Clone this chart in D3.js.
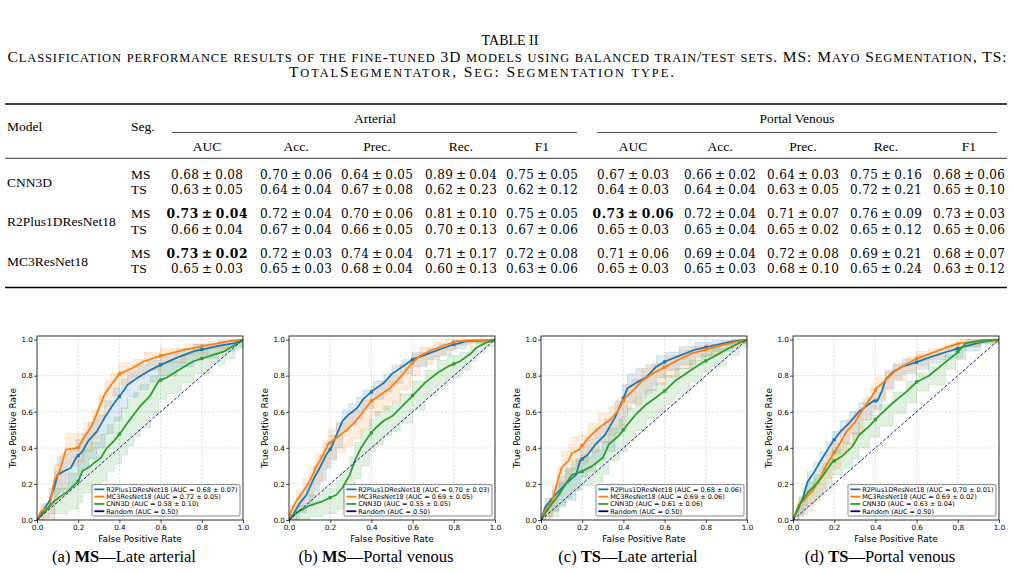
<!DOCTYPE html>
<html>
<head>
<meta charset="utf-8">
<script src="https://cdn.jsdelivr.net/npm/d3@7"></script>
<style>
  body { margin: 0; background: #fff; }
  svg { display: block; }
</style>
</head>
<body>
<svg id="fig" width="1014" height="573"></svg>
<script>
"use strict";

// ---------- table data ----------
const tableModels = ["CNN3D", "R2Plus1DResNet18", "MC3ResNet18"];
const tableSegs = ["MS", "TS"];
const phases = ["Arterial", "Portal Venous"];
const metrics = ["AUC", "Acc.", "Prec.", "Rec.", "F1"];

// rows: CNN3D MS, CNN3D TS, R2 MS, R2 TS, MC3 MS, MC3 TS ; 5 arterial + 5 portal venous
const tableMeans = [
    [0.68, 0.70, 0.64, 0.89, 0.75, 0.67, 0.66, 0.64, 0.75, 0.68],
    [0.63, 0.64, 0.67, 0.62, 0.62, 0.64, 0.64, 0.63, 0.72, 0.65],
    [0.73, 0.72, 0.70, 0.81, 0.75, 0.73, 0.72, 0.71, 0.76, 0.73],
    [0.66, 0.67, 0.66, 0.70, 0.67, 0.65, 0.65, 0.65, 0.65, 0.65],
    [0.73, 0.72, 0.74, 0.71, 0.72, 0.71, 0.69, 0.72, 0.69, 0.68],
    [0.65, 0.65, 0.68, 0.60, 0.63, 0.65, 0.65, 0.68, 0.65, 0.63]
];
const tableStds = [
    [0.08, 0.06, 0.05, 0.04, 0.05, 0.03, 0.02, 0.03, 0.16, 0.06],
    [0.05, 0.04, 0.08, 0.23, 0.12, 0.03, 0.04, 0.05, 0.21, 0.10],
    [0.04, 0.04, 0.06, 0.10, 0.05, 0.06, 0.04, 0.07, 0.09, 0.03],
    [0.04, 0.04, 0.05, 0.13, 0.06, 0.03, 0.04, 0.02, 0.12, 0.06],
    [0.02, 0.03, 0.04, 0.17, 0.08, 0.06, 0.04, 0.08, 0.21, 0.07],
    [0.03, 0.03, 0.04, 0.13, 0.06, 0.03, 0.03, 0.10, 0.24, 0.12]
];
const boldCells = [[2, 0], [4, 0], [2, 5]];

// ---------- ROC data: [fpr, mean tpr, std tpr] ----------
const rocA_R2 = [[0,0,0],[0.03,0.05,0.04],[0.06,0.105,0.07],[0.084,0.18,0.09],[0.10,0.25,0.10],[0.13,0.27,0.10],[0.165,0.29,0.10],[0.19,0.345,0.10],[0.22,0.38,0.10],[0.25,0.44,0.10],[0.29,0.49,0.09],[0.33,0.57,0.09],[0.37,0.64,0.09],[0.41,0.70,0.08],[0.44,0.75,0.07],[0.49,0.79,0.07],[0.54,0.825,0.06],[0.60,0.86,0.06],[0.68,0.90,0.05],[0.76,0.935,0.04],[0.88,0.965,0.03],[0.96,0.98,0.02],[1,1,0]];
const rocA_MC3 = [[0,0,0],[0.02,0.05,0.04],[0.06,0.07,0.06],[0.084,0.22,0.09],[0.11,0.27,0.10],[0.14,0.39,0.09],[0.20,0.40,0.08],[0.23,0.46,0.08],[0.27,0.53,0.08],[0.30,0.62,0.07],[0.33,0.70,0.07],[0.36,0.75,0.06],[0.40,0.81,0.06],[0.46,0.84,0.05],[0.52,0.88,0.05],[0.60,0.91,0.04],[0.72,0.945,0.03],[0.83,0.97,0.02],[0.93,0.99,0.01],[1,1,0]];
const rocA_CNN = [[0,0,0],[0.084,0.105,0.07],[0.15,0.16,0.10],[0.20,0.215,0.12],[0.22,0.27,0.12],[0.26,0.30,0.13],[0.31,0.345,0.13],[0.34,0.40,0.13],[0.375,0.44,0.13],[0.41,0.49,0.13],[0.44,0.54,0.13],[0.47,0.585,0.12],[0.50,0.63,0.12],[0.55,0.69,0.11],[0.59,0.77,0.10],[0.63,0.79,0.09],[0.70,0.84,0.08],[0.76,0.88,0.07],[0.84,0.91,0.05],[0.91,0.935,0.04],[0.96,0.97,0.02],[1,1,0]];

const rocB_R2 = [[0,0,0],[0.02,0.03,0.03],[0.05,0.09,0.05],[0.085,0.14,0.06],[0.12,0.23,0.07],[0.15,0.29,0.07],[0.18,0.36,0.07],[0.205,0.40,0.07],[0.23,0.47,0.07],[0.26,0.55,0.06],[0.29,0.585,0.06],[0.33,0.62,0.06],[0.36,0.67,0.05],[0.41,0.72,0.05],[0.46,0.76,0.05],[0.50,0.81,0.05],[0.55,0.85,0.04],[0.60,0.89,0.04],[0.67,0.92,0.03],[0.73,0.945,0.03],[0.79,0.97,0.02],[0.86,0.99,0.01],[0.94,0.995,0.01],[1,1,0]];
const rocB_MC3 = [[0,0,0],[0.01,0.05,0.04],[0.035,0.105,0.06],[0.07,0.16,0.07],[0.10,0.215,0.08],[0.13,0.29,0.08],[0.165,0.36,0.08],[0.19,0.42,0.08],[0.23,0.455,0.08],[0.27,0.49,0.08],[0.31,0.53,0.08],[0.35,0.585,0.08],[0.40,0.66,0.08],[0.44,0.69,0.08],[0.49,0.73,0.07],[0.54,0.79,0.07],[0.59,0.86,0.06],[0.635,0.91,0.05],[0.70,0.945,0.04],[0.76,0.97,0.03],[0.81,0.99,0.02],[0.89,0.995,0.01],[1,1,0]];
const rocB_CNN = [[0,0,0],[0.035,0.04,0.04],[0.10,0.08,0.06],[0.165,0.105,0.07],[0.23,0.14,0.08],[0.26,0.18,0.09],[0.295,0.25,0.10],[0.32,0.33,0.10],[0.35,0.40,0.10],[0.39,0.47,0.09],[0.42,0.51,0.09],[0.46,0.55,0.08],[0.50,0.575,0.08],[0.54,0.62,0.08],[0.60,0.69,0.08],[0.66,0.76,0.07],[0.72,0.815,0.07],[0.77,0.85,0.06],[0.83,0.88,0.05],[0.88,0.92,0.04],[0.91,0.955,0.03],[0.95,0.98,0.02],[1,1,0]];

const rocC_R2 = [[0,0,0],[0.02,0.07,0.05],[0.055,0.12,0.07],[0.087,0.16,0.08],[0.12,0.20,0.09],[0.17,0.25,0.09],[0.19,0.33,0.09],[0.225,0.36,0.09],[0.265,0.42,0.09],[0.31,0.47,0.09],[0.36,0.57,0.09],[0.395,0.66,0.09],[0.42,0.73,0.08],[0.46,0.76,0.08],[0.51,0.79,0.07],[0.56,0.85,0.06],[0.605,0.88,0.05],[0.67,0.91,0.05],[0.75,0.945,0.04],[0.83,0.965,0.03],[0.93,0.99,0.01],[1,1,0]];
const rocC_MC3 = [[0,0,0],[0.02,0.05,0.04],[0.055,0.105,0.06],[0.08,0.215,0.08],[0.10,0.29,0.09],[0.135,0.33,0.09],[0.15,0.37,0.09],[0.185,0.39,0.08],[0.23,0.455,0.08],[0.28,0.51,0.08],[0.33,0.55,0.08],[0.37,0.60,0.08],[0.41,0.68,0.07],[0.44,0.71,0.07],[0.49,0.77,0.07],[0.54,0.81,0.06],[0.605,0.85,0.06],[0.67,0.89,0.05],[0.735,0.925,0.04],[0.80,0.945,0.03],[0.88,0.97,0.02],[0.96,0.99,0.01],[1,1,0]];
const rocC_CNN = [[0,0,0],[0.04,0.07,0.05],[0.087,0.14,0.07],[0.12,0.20,0.08],[0.15,0.25,0.08],[0.20,0.27,0.08],[0.25,0.30,0.09],[0.30,0.345,0.09],[0.33,0.42,0.09],[0.38,0.47,0.09],[0.42,0.53,0.09],[0.46,0.585,0.09],[0.51,0.64,0.08],[0.56,0.68,0.08],[0.605,0.72,0.08],[0.65,0.77,0.07],[0.72,0.825,0.06],[0.78,0.87,0.05],[0.83,0.90,0.05],[0.90,0.945,0.03],[0.96,0.98,0.02],[1,1,0]];

const rocD_R2 = [[0,0,0],[0.025,0.06,0.04],[0.05,0.13,0.05],[0.07,0.21,0.06],[0.10,0.26,0.06],[0.13,0.32,0.06],[0.16,0.375,0.06],[0.19,0.43,0.06],[0.23,0.49,0.06],[0.275,0.54,0.06],[0.32,0.60,0.05],[0.36,0.635,0.05],[0.39,0.66,0.05],[0.41,0.66,0.05],[0.43,0.71,0.05],[0.45,0.78,0.05],[0.485,0.82,0.04],[0.53,0.85,0.04],[0.60,0.875,0.04],[0.66,0.90,0.03],[0.74,0.93,0.03],[0.825,0.96,0.02],[0.91,0.985,0.01],[1,1,0]];
const rocD_MC3 = [[0,0,0],[0.025,0.08,0.04],[0.057,0.115,0.05],[0.10,0.17,0.06],[0.13,0.225,0.07],[0.16,0.30,0.07],[0.19,0.355,0.07],[0.23,0.43,0.07],[0.26,0.49,0.07],[0.30,0.54,0.07],[0.34,0.615,0.06],[0.38,0.68,0.06],[0.405,0.73,0.06],[0.445,0.77,0.05],[0.49,0.82,0.05],[0.55,0.865,0.04],[0.60,0.895,0.04],[0.66,0.92,0.03],[0.74,0.955,0.02],[0.81,0.98,0.02],[0.91,0.99,0.01],[1,1,0]];
const rocD_CNN = [[0,0,0],[0.03,0.08,0.05],[0.07,0.15,0.06],[0.105,0.19,0.06],[0.145,0.245,0.07],[0.19,0.32,0.07],[0.24,0.355,0.07],[0.29,0.41,0.07],[0.32,0.47,0.07],[0.37,0.52,0.06],[0.42,0.58,0.06],[0.485,0.65,0.06],[0.55,0.71,0.06],[0.60,0.765,0.05],[0.66,0.80,0.05],[0.74,0.875,0.04],[0.79,0.92,0.03],[0.84,0.98,0.02],[0.91,0.995,0.01],[1,1,0]];

// legend AUCs per panel, order R2, MC3, CNN
const aucMeanA = [0.68, 0.72, 0.58], aucStdA = [0.07, 0.05, 0.10];
const aucMeanB = [0.70, 0.69, 0.55], aucStdB = [0.03, 0.05, 0.05];
const aucMeanC = [0.68, 0.69, 0.61], aucStdC = [0.06, 0.06, 0.06];
const aucMeanD = [0.70, 0.69, 0.63], aucStdD = [0.01, 0.02, 0.04];

const rocModels = ["R2Plus1DResNet18", "MC3ResNet18", "CNN3D"];
const panelTags = ["(a)", "(b)", "(c)", "(d)"];
const panelSegs = ["MS", "MS", "TS", "TS"];
const panelPhases = ["Late arterial", "Portal venous", "Late arterial", "Portal venous"];
const rocTicks = [0, 0.2, 0.4, 0.6, 0.8, 1.0];

const panels = [
    { curves: [rocA_R2, rocA_MC3, rocA_CNN], mean: aucMeanA, std: aucStdA },
    { curves: [rocB_R2, rocB_MC3, rocB_CNN], mean: aucMeanB, std: aucStdB },
    { curves: [rocC_R2, rocC_MC3, rocC_CNN], mean: aucMeanC, std: aucStdC },
    { curves: [rocD_R2, rocD_MC3, rocD_CNN], mean: aucMeanD, std: aucStdD }
];

// ---------- drawing ----------
const svg = d3.select("#fig");
svg.append("rect").attr("width", 1014).attr("height", 573).attr("fill", "#fff");

const serif = "'Liberation Serif','Times New Roman',serif";
const mathFont = "'DejaVu Serif',serif";
const sans = "'DejaVu Sans',sans-serif";

// fake small caps: lower-case runs become smaller capitals
function smallCaps(textSel, str, size) {
    const runs = [];
    for (const ch of str) {
        const low = ch !== ch.toUpperCase();
        const last = runs[runs.length - 1];
        if (last && last.low === low) last.s += ch;
        else runs.push({ low: low, s: ch });
    }
    runs.forEach((r) => {
        textSel.append("tspan")
            .style("font-size", (r.low ? size * 0.8 : size) + "px")
            .text(r.low ? r.s.toUpperCase() : r.s);
    });
}

// title + caption
svg.append("text")
    .attr("x", 510).attr("y", 44.5)
    .attr("text-anchor", "middle")
    .style("font-family", serif).style("font-size", "14px")
    .text("TABLE II");

const cap1 = svg.append("text")
    .attr("x", 7.5).attr("y", 61.5)
    .attr("textLength", 999).attr("lengthAdjust", "spacing")
    .style("font-family", serif).style("font-size", "15.5px");
smallCaps(cap1, "Classification performance results of the fine-tuned 3D models using balanced train/test sets. MS: Mayo Segmentation, TS:", 15.5);

const cap2 = svg.append("text")
    .attr("x", 289).attr("y", 76.5)
    .attr("textLength", 385).attr("lengthAdjust", "spacing")
    .style("font-family", serif).style("font-size", "15.5px");
smallCaps(cap2, "TotalSegmentator, Seg: Segmentation type.", 15.5);

// table layout
const colX = [207, 296, 377, 461, 542, 633, 720, 803, 886, 969];
const rowY = [174.5, 190, 214, 230, 253.5, 269];
const table = svg.append("g").style("font-family", serif).style("font-size", "13.5px");

const rule = (x1, x2, y, w) => table.append("line")
    .attr("x1", x1).attr("x2", x2).attr("y1", y).attr("y2", y)
    .attr("stroke", "#000").attr("stroke-width", w);

rule(5, 1007, 104, 1.3);
rule(172, 577, 132.5, 0.7);
rule(597, 997, 132.5, 0.7);
rule(5, 1007, 158.3, 0.8);
rule(5, 1007, 287.5, 1.3);

table.append("text").attr("x", 7).attr("y", 127).attr("dy", "0.33em").text("Model");
table.append("text").attr("x", 131).attr("y", 127).attr("dy", "0.33em").text("Seg.");
table.append("text").attr("x", 375).attr("y", 119).attr("dy", "0.33em")
    .attr("text-anchor", "middle").text(phases[0]);
table.append("text").attr("x", 797).attr("y", 119).attr("dy", "0.33em")
    .attr("text-anchor", "middle").text(phases[1]);

colX.forEach((cx, i) => {
    table.append("text").attr("x", cx).attr("y", 146.7).attr("dy", "0.33em")
        .attr("text-anchor", "middle").text(metrics[i % 5]);
});

tableModels.forEach((m, i) => {
    table.append("text").attr("x", 7).attr("y", (rowY[2 * i] + rowY[2 * i + 1]) / 2)
        .attr("dy", "0.33em").text(m);
});

tableMeans.forEach((row, r) => {
    table.append("text").attr("x", 131).attr("y", rowY[r]).attr("dy", "0.33em")
        .text(tableSegs[r % 2]);
    row.forEach((v, c) => {
        const bold = boldCells.some((b) => b[0] === r && b[1] === c);
        table.append("text")
            .attr("x", colX[c]).attr("y", rowY[r]).attr("dy", "0.36em")
            .attr("text-anchor", "middle")
            .attr("textLength", bold ? 81 : 72).attr("lengthAdjust", "spacing")
            .style("font-family", mathFont)
            .style("font-size", bold ? "12.3px" : "12px")
            .style("font-weight", bold ? "bold" : "normal")
            .text(`${v.toFixed(2)}\u2009\u00b1\u2009${tableStds[r][c].toFixed(2)}`);
    });
});

// ---------- ROC panels ----------
const colors = ["#1f77b4", "#ff7f0e", "#2ca02c"];
const panelLeft = [37, 289, 541, 793];
const plotTop = 336, plotW = 206, plotH = 184;

function tprAt(curve, f) {
    const i = d3.bisector((d) => d[0]).left(curve, f);
    if (i <= 0) return curve[0][1];
    const a = curve[i - 1], b = curve[i];
    const t = (f - a[0]) / (b[0] - a[0]);
    return a[1] + t * (b[1] - a[1]);
}

panels.forEach((p, pi) => {
    const left = panelLeft[pi];
    const g = svg.append("g").attr("transform", `translate(${left},${plotTop})`);

    const x = d3.scaleLinear().domain([0, 1]).range([0, plotW]);
    const y = d3.scaleLinear().domain([0, 1.02]).range([plotH, 0]);

    const clipId = `clip${pi}`;
    g.append("clipPath").attr("id", clipId)
        .append("rect").attr("width", plotW).attr("height", plotH);

    // grid
    const grid = g.append("g").attr("stroke", "#b0b0b0").attr("stroke-width", 0.6)
        .attr("stroke-dasharray", "2.2,1.6").attr("opacity", 0.7);
    rocTicks.slice(1, 5).forEach((t) => {
        grid.append("line").attr("x1", x(t)).attr("x2", x(t)).attr("y1", 0).attr("y2", plotH);
    });
    rocTicks.slice(1).forEach((t) => {
        grid.append("line").attr("x1", 0).attr("x2", plotW).attr("y1", y(t)).attr("y2", y(t));
    });

    const plot = g.append("g").attr("clip-path", `url(#${clipId})`);

    // std bands
    p.curves.forEach((c, ci) => {
        const area = d3.area()
            .x((d) => x(d[0]))
            .y0((d) => y(Math.max(0, d[1] - d[2])))
            .y1((d) => y(Math.min(1, d[1] + d[2])))
            .curve(d3.curveStepAfter);
        plot.append("path").datum(c).attr("d", area)
            .attr("fill", colors[ci]).attr("fill-opacity", 0.15);
    });

    // faint band edges (look of the per-fold curves)
    p.curves.forEach((c, ci) => {
        [1, -1].forEach((sgn) => {
            const ln = d3.line()
                .x((d) => x(d[0]))
                .y((d) => y(Math.min(1, Math.max(0, d[1] + sgn * d[2]))))
                .curve(d3.curveStepAfter);
            plot.append("path").datum(c).attr("d", ln)
                .attr("fill", "none").attr("stroke", colors[ci])
                .attr("stroke-width", 0.6).attr("stroke-opacity", 0.25);
        });
    });

    // mean curves
    p.curves.forEach((c, ci) => {
        const ln = d3.line().x((d) => x(d[0])).y((d) => y(d[1]));
        plot.append("path").datum(c).attr("d", ln)
            .attr("fill", "none").attr("stroke", colors[ci])
            .attr("stroke-width", 1.8).attr("stroke-linejoin", "round");
        [0.2, 0.4, 0.6, 0.8].forEach((f) => {
            const ty = tprAt(c, f);
            plot.append("rect")
                .attr("x", x(f) - 1.6).attr("y", y(ty) - 1.6)
                .attr("width", 3.2).attr("height", 3.2)
                .attr("fill", colors[ci]);
        });
    });

    // random diagonal
    plot.append("line")
        .attr("x1", x(0)).attr("y1", y(0)).attr("x2", x(1)).attr("y2", y(1))
        .attr("stroke", "#000080").attr("stroke-width", 0.9)
        .attr("stroke-dasharray", "3,1.8");

    // frame
    g.append("rect").attr("width", plotW).attr("height", plotH)
        .attr("fill", "none").attr("stroke", "#000").attr("stroke-width", 0.8);

    // axes
    const fmt = d3.format(".1f");
    const xAxis = g.append("g").attr("transform", `translate(0,${plotH})`)
        .call(d3.axisBottom(x).tickValues(rocTicks).tickFormat(fmt).tickSize(3).tickPadding(1.5));
    const yAxis = g.append("g")
        .call(d3.axisLeft(y).tickValues(rocTicks).tickFormat(fmt).tickSize(3).tickPadding(1.2));
    [xAxis, yAxis].forEach((a) => {
        a.select(".domain").remove();
        a.selectAll("line").attr("stroke-width", 0.7);
        a.selectAll("text").style("font-family", sans).style("font-size", "7.2px").attr("fill", "#000");
    });

    g.append("text")
        .attr("x", plotW / 2).attr("y", 202.5).attr("dy", "0.35em")
        .attr("text-anchor", "middle")
        .style("font-family", sans).style("font-size", "9px")
        .text("False Positive Rate");
    g.append("text")
        .attr("transform", `translate(-24.5,${plotH / 2}) rotate(-90)`)
        .attr("dy", "0.35em")
        .attr("text-anchor", "middle")
        .style("font-family", sans).style("font-size", "9px")
        .text("True Positive Rate");

    // legend
    const labels = rocModels.map((m, i) =>
        `${m} (AUC = ${p.mean[i].toFixed(2)} \u00b1 ${p.std[i].toFixed(2)})`);
    labels.push("Random (AUC = 0.50)");
    const legColors = colors.concat(["#000080"]);
    const rowH = 7.3, legH = 31.4;
    const leg = g.append("g");
    const legBox = leg.append("rect");
    let maxW = 0;
    labels.forEach((lab, i) => {
        const cy = 4.75 + i * rowH;
        leg.append("line")
            .attr("x1", 2.3).attr("x2", 12.3).attr("y1", cy).attr("y2", cy)
            .attr("stroke", legColors[i]).attr("stroke-width", 1.8);
        const t = leg.append("text")
            .attr("x", 14.2).attr("y", cy).attr("dy", "0.35em")
            .style("font-family", sans).style("font-size", "6.5px")
            .text(lab);
        maxW = Math.max(maxW, t.node().getComputedTextLength());
    });
    const legW = 14.2 + maxW + 2.5;
    legBox.attr("width", legW).attr("height", legH).attr("rx", 1.5)
        .attr("fill", "#fff").attr("fill-opacity", 0.85)
        .attr("stroke", "#555").attr("stroke-width", 0.7);
    leg.attr("transform", `translate(${plotW - 3 - legW},${plotH - 4 - legH})`);

    // caption
    const cap = svg.append("text")
        .attr("x", left + 87).attr("y", 562)
        .attr("text-anchor", "middle")
        .style("font-family", serif).style("font-size", "16.5px");
    cap.append("tspan").text(panelTags[pi] + " ");
    cap.append("tspan").style("font-weight", "bold").text(panelSegs[pi]);
    cap.append("tspan").text("\u2014" + panelPhases[pi]);
});
</script>
</body>
</html>
